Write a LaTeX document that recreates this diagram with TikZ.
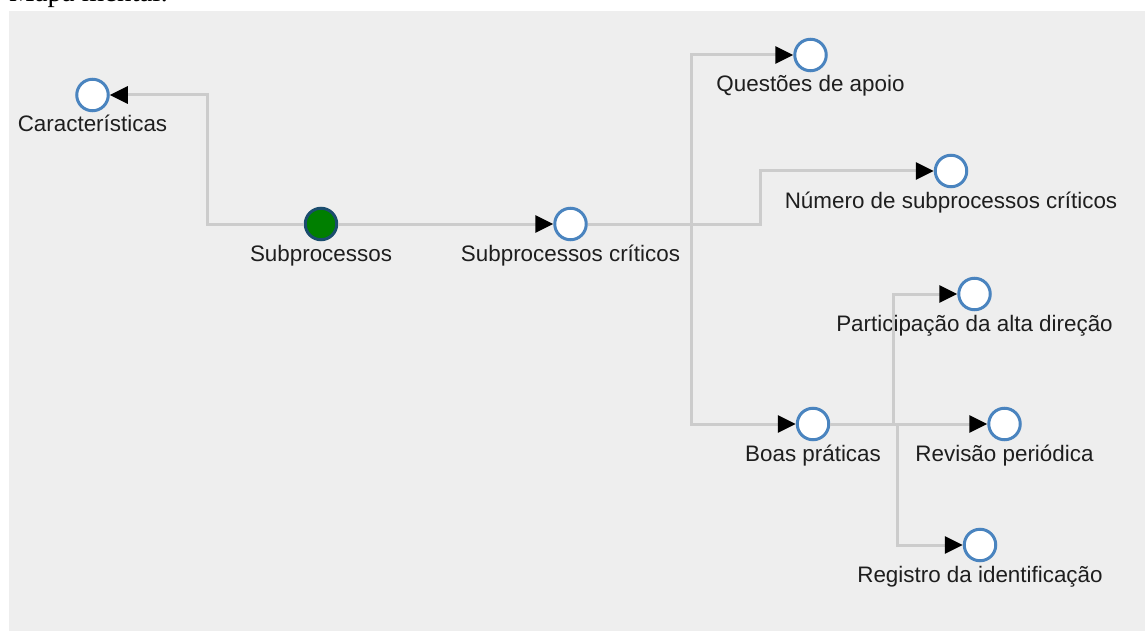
\documentclass[tikz,border=0pt]{standalone}
\usepackage{fontspec}
\newfontfamily\lblfont{Liberation Sans}
\newfontfamily\capfont{Liberation Serif}
\usetikzlibrary{arrows.meta}
\definecolor{panel}{HTML}{EEEEEE}
\definecolor{wire}{HTML}{CCCCCC}
\definecolor{ring}{HTML}{4A84BF}
\definecolor{rootfill}{HTML}{007F00}
\definecolor{rootring}{HTML}{1B4D6E}
\definecolor{ink}{HTML}{1E1E1E}

\begin{document}
\begin{tikzpicture}[x=1pt,y=-1pt,
  topic/.style={circle, draw=ring, fill=white, line width=3pt, minimum size=31.5pt, inner sep=0pt},
  root/.style={topic, draw=rootring, fill=rootfill},
  lbl/.style={font=\lblfont\fontsize{22.4}{26}\selectfont, text=ink, anchor=base, inner sep=0pt},
  conn/.style={draw=wire, line width=3pt, -{Triangle[length=18pt,width=17pt,color=black]}}
]
\useasboundingbox (0,0) rectangle (1145,631);
\fill[panel] (9,11) rectangle (1145,631);
\node[font=\capfont\fontsize{28.8}{32}\selectfont, anchor=base west, inner sep=0pt] (title) at (9,2) {Mapa mental:};

% topics
\node[root]  (sub)  at (321,224)   {};
\node[topic] (car)  at (92.5,95)   {};
\node[topic] (crit) at (570.5,224) {};
\node[topic] (que)  at (810.5,55)  {};
\node[topic] (num)  at (951,171)   {};
\node[topic] (boas) at (813,424)   {};
\node[topic] (part) at (974.5,294) {};
\node[topic] (rev)  at (1004.5,424) {};
\node[topic] (reg)  at (980,545)   {};

% captions under the topics
\node[lbl] (sub-l)  at ([yshift=-37pt]sub.center)  {Subprocessos};
\node[lbl] (car-l)  at ([yshift=-37pt]car.center)  {Características};
\node[lbl] (crit-l) at ([yshift=-37pt]crit.center) {Subprocessos críticos};
\node[lbl] (que-l)  at ([yshift=-37pt]que.center)  {Questões de apoio};
\node[lbl] (num-l)  at ([yshift=-37pt]num.center)  {Número de subprocessos críticos};
\node[lbl] (boas-l) at ([yshift=-37pt]boas.center) {Boas práticas};
\node[lbl] (part-l) at ([yshift=-37pt]part.center) {Participação da alta direção};
\node[lbl] (rev-l)  at ([yshift=-37pt]rev.center)  {Revisão periódica};
\node[lbl] (reg-l)  at ([yshift=-37pt]reg.center)  {Registro da identificação};

% elbow columns of the orthogonal connectors
\coordinate (j1) at (207,0);
\coordinate (j2) at (691,0);
\coordinate (j3) at (760,0);
\coordinate (j4) at (893,0);
\coordinate (j5) at (897,0);

% connectors
\draw[conn] (sub.west) -| (j1 |- car.east) -- (car.east);
\draw[conn] (sub.east) -- (crit.west);
\draw[conn] (crit.east) -| (j2 |- que.west) -- (que.west);
\draw[conn] (crit.east) -| (j3 |- num.west) -- (num.west);
\draw[conn] (crit.east) -| (j2 |- boas.west) -- (boas.west);
\draw[conn] (boas.east) -| (j4 |- part.west) -- (part.west);
\draw[conn] (boas.east) -- (rev.west);
\draw[conn] (boas.east) -| (j5 |- reg.west) -- (reg.west);
\end{tikzpicture}
\end{document}
